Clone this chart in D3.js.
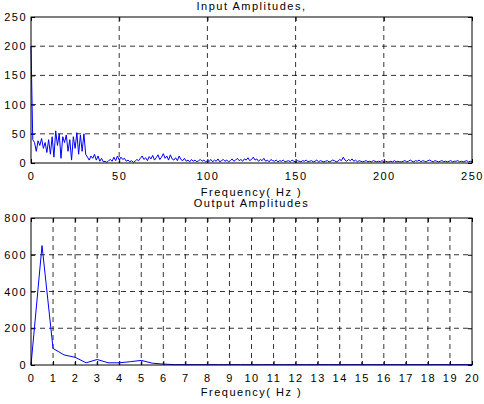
<!DOCTYPE html>
<html>

<head>
    <meta charset="utf-8">
    <title>Input / Output Amplitudes</title>
    <script src="https://d3js.org/d3.v7.min.js"></script>
    <style>
        body { margin: 0; background: #fff; }
        text { font-family: "Liberation Sans", Arial, sans-serif; font-size: 11px; letter-spacing: 1.5px; fill: #000; }
        .grid line { stroke: #000; stroke-dasharray: 5, 4; stroke-width: 0.8px; }
    </style>
</head>

<body>
    <svg width="484" height="404"></svg>
    <script>
        // Input spectrum, 1 Hz steps from 0 to 250 Hz
        const inputAmp = [
            200, 40, 35, 20, 38, 30, 42, 25, 35, 18, 40, 15, 45, 10, 55, 30, 50, 8, 45, 35,
            48, 20, 40, 5, 45, 25, 52, 15, 48, 20, 50, 15, 10, 5, 12, 8, 15, 5, 12, 3,
            8, 2, 3, 1, 4, 6, 3, 10, 4, 12, 5, 10, 6, 8, 3, 5, 2, 4, 1, 3,
            6, 4, 8, 12, 6, 9, 4, 11, 7, 13, 5, 9, 14, 6, 10, 16, 8, 12, 5, 14,
            7, 5, 9, 4, 12, 6, 4, 8, 3, 5, 2, 6, 3, 5, 2, 4, 6, 3, 5, 2,
            4, 3, 6, 2, 5, 3, 7, 2, 4, 6, 3, 5, 2, 4, 7, 3, 5, 8, 4, 6,
            3, 7, 5, 9, 4, 6, 10, 5, 7, 3, 6, 4, 8, 3, 5, 2, 6, 4, 3, 5,
            2, 4, 3, 5, 2, 3, 4, 2, 5, 3, 2, 4, 3, 2, 4, 3, 5, 2, 3, 4,
            2, 3, 5, 2, 4, 3, 2, 3, 4, 2, 3, 5, 4, 2, 3, 6, 4, 10, 5, 3,
            6, 4, 7, 3, 5, 2, 4, 3, 2, 3, 4, 2, 3, 2, 4, 3, 2, 3, 2, 4,
            2, 3, 2, 2, 3, 2, 4, 2, 3, 2, 2, 3, 4, 2, 3, 5, 3, 2, 4, 3,
            5, 2, 4, 3, 2, 4, 5, 3, 2, 4, 3, 2, 3, 4, 2, 3, 2, 3, 4, 2,
            3, 3, 4, 2, 3, 2, 3, 4, 2, 3, 2
        ];
        // Output spectrum, 0.5 Hz steps from 0 to 20 Hz
        const outputAmp = [
            0, 650, 90, 55, 42, 12, 30, 12, 12, 18, 25, 10, 5, 2, 2, 2, 2, 2, 2, 2,
            2, 2, 2, 2, 2, 2, 2, 2, 2, 2, 2, 2, 2, 2, 2, 2, 2, 2, 2, 2, 2
        ];
        const inputTicksX = [0, 50, 100, 150, 200, 250];
        const inputTicksY = [0, 50, 100, 150, 200, 250];
        const outputTicksX = d3.range(0, 21);
        const outputTicksY = [0, 200, 400, 600, 800];

        const svg = d3.select("svg");
        const left = 31, right = 472;

        function panel(top, bottom, data, step, xMax, yMax, ticksX, ticksY, title, titleY, labelY) {
            const x = d3.scaleLinear().domain([0, xMax]).range([left, right]);
            const y = d3.scaleLinear().domain([0, yMax]).range([bottom, top]);
            const g = svg.append("g");

            // dashed grid
            const grid = g.append("g").attr("class", "grid");
            grid.selectAll(".vx").data(ticksX.slice(1, -1)).join("line")
                .attr("x1", d => x(d)).attr("x2", d => x(d))
                .attr("y1", top).attr("y2", bottom);
            grid.selectAll(".hy").data(ticksY.slice(1, -1)).join("line")
                .attr("x1", left).attr("x2", right)
                .attr("y1", d => y(d)).attr("y2", d => y(d));

            // axes with inward ticks
            g.append("g").attr("transform", `translate(0,${bottom})`)
                .call(d3.axisBottom(x).tickValues(ticksX).tickSize(-4).tickPadding(9).tickFormat(d3.format("d")))
                .call(a => a.select(".domain").remove())
                .call(a => a.selectAll("text").attr("font-size", null).attr("font-family", null));
            g.append("g").attr("transform", `translate(0,${top})`)
                .call(d3.axisTop(x).tickValues(ticksX).tickSize(-4).tickFormat(""))
                .call(a => a.select(".domain").remove());
            g.append("g").attr("transform", `translate(${left},0)`)
                .call(d3.axisLeft(y).tickValues(ticksY).tickSize(-4).tickPadding(4).tickFormat(d3.format("d")))
                .call(a => a.select(".domain").remove())
                .call(a => a.selectAll("text").attr("font-size", null).attr("font-family", null));
            g.append("g").attr("transform", `translate(${right},0)`)
                .call(d3.axisRight(y).tickValues(ticksY).tickSize(-4).tickFormat(""))
                .call(a => a.select(".domain").remove());

            // series
            g.append("path")
                .datum(data)
                .attr("fill", "none")
                .attr("stroke", "#0000ff")
                .attr("stroke-width", 1)
                .attr("d", d3.line().x((d, i) => x(i * step)).y(d => y(d)));

            // frame
            g.append("rect")
                .attr("x", left).attr("y", top)
                .attr("width", right - left).attr("height", bottom - top)
                .attr("fill", "none").attr("stroke", "#000").attr("stroke-width", 1);

            g.append("text").attr("x", (left + right) / 2).attr("y", titleY)
                .attr("text-anchor", "middle").text(title);
            g.append("text").attr("x", (left + right) / 2).attr("y", labelY)
                .attr("text-anchor", "middle").text("Frequency( Hz )");
        }

        panel(17, 163, inputAmp, 1, 250, 250, inputTicksX, inputTicksY, "Input Amplitudes,", 10, 196);
        panel(218, 365, outputAmp, 0.5, 20, 800, outputTicksX, outputTicksY, "Output Amplitudes", 207, 396);
    </script>
</body>

</html>
